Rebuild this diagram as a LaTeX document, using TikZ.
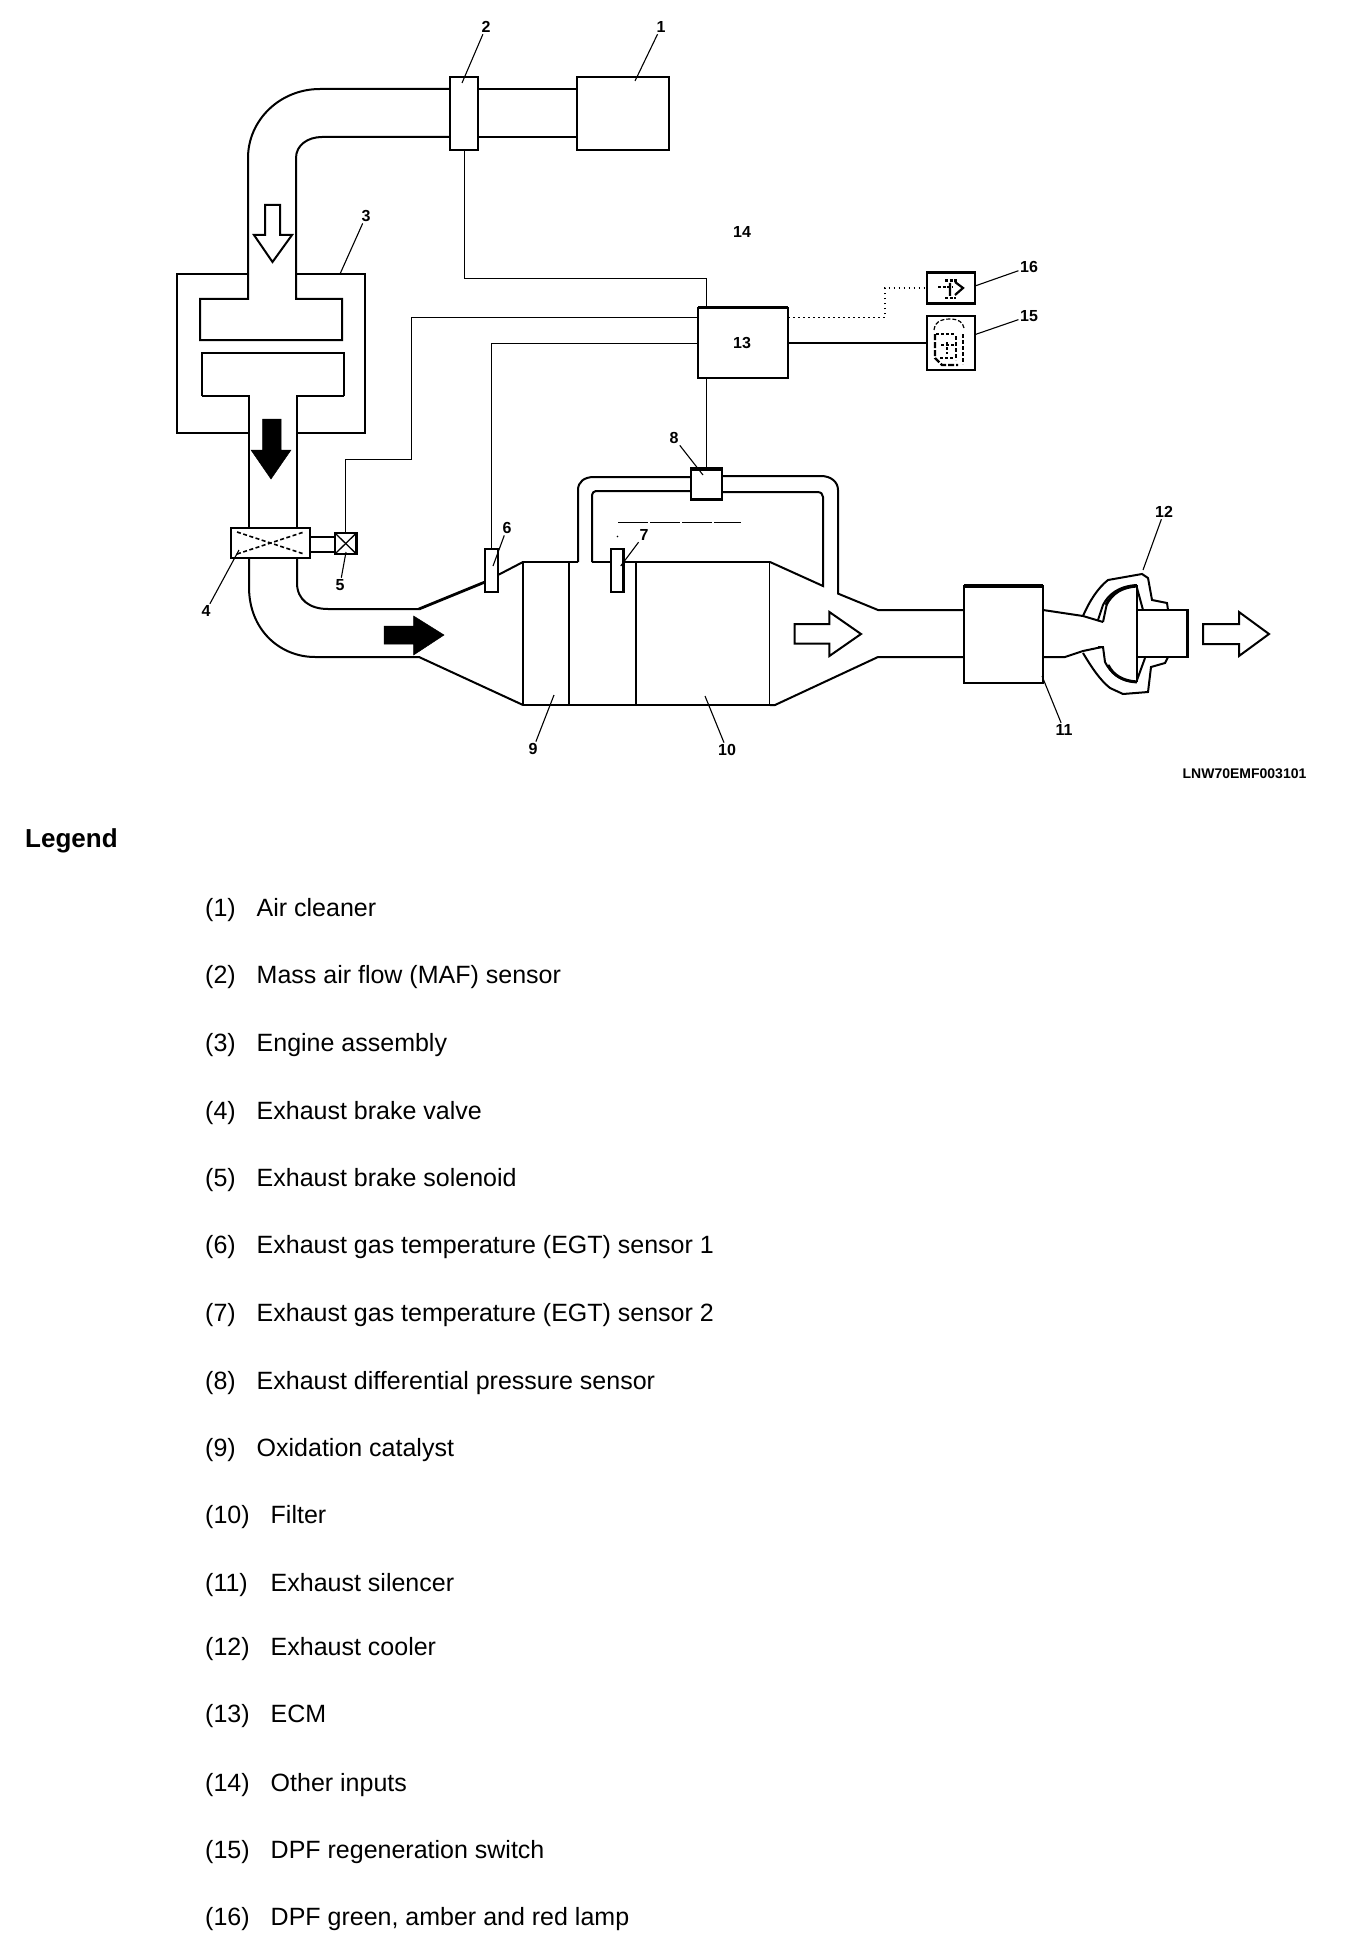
\documentclass[tikz,border=0pt]{standalone}
\usepackage{fontspec}
\setmainfont{Liberation Sans}
\tikzset{
  thickline/.style={line width=2.8pt},
  med/.style={line width=2pt},
  wire/.style={line width=1pt},
  dotwire/.style={line width=1.1pt,dash pattern=on 1.5pt off 3.5pt},
  leader/.style={line width=1.1pt},
  boxn/.style={draw,fill=white,inner sep=0pt,outer sep=0pt,line width=2.2pt},
  callout/.style={inner sep=1.5pt,font=\fontsize{16}{18}\selectfont\bfseries},
  legendnum/.style={anchor=base west,inner sep=0pt,font=\fontsize{25}{28}\selectfont},
  solidarrow/.style={fill=black,draw=black,line width=.5pt,line join=miter},
  openarrow/.style={fill=white,draw=black,line width=2pt,line join=miter}
}
\begin{document}
\begin{tikzpicture}[x=1pt,y=-1pt]
\useasboundingbox (0,0) rectangle (1344,1950);
\fill[white] (0,0) rectangle (1344,1950);

% intake pipe and engine
\draw[med] (450,89) -- (320,89) .. controls (280,89) and (248,120) .. (248,158) -- (248,274);
\draw[med] (450,137) -- (322,137) .. controls (308,137) and (296,145) .. (296,158) -- (296,299) -- (342,299) -- (342,340) -- (200,340) -- (200,299) -- (248,299) -- (248,274);
\draw[med] (478,89) -- (577,89);
\draw[med] (478,137) -- (577,137);
\draw[med] (249,274) -- (177,274) -- (177,433) -- (249,433);
\draw[med] (296,274) -- (365,274) -- (365,433) -- (297,433);
\draw[med] (202,396) -- (202,353) -- (344,353) -- (344,396);
\draw[thickline] (249,528) -- (249,396) -- (202,396);
\draw[thickline] (344,396) -- (297,396) -- (297,528);

% exhaust pipe, cone
\draw[med] (297,558) -- (297,583) .. controls (297,600) and (310,609) .. (328,609) -- (419,609);
\draw[thickline] (419,609) -- (485,582);
\draw[med] (249,558) -- (249,587) .. controls (249,630) and (280,657) .. (315,657) -- (419,657) -- (523,705);
\draw[med] (498,575) -- (523,562);
% catalyst and filter
\draw[med] (523,705) -- (523,562) -- (578,562);
\draw[med] (569,562) -- (569,705);
\draw[thickline] (636,562) -- (636,705);
\draw[thickline] (523,705) -- (770,705);
\draw[med] (592,562) -- (611,562);
\draw[med] (623,562) -- (770,562);
\draw[line width=1.4pt] (769.5,562) -- (769.5,705);
% differential pressure loop
\draw[med] (692,477) -- (594,477) .. controls (584,477) and (578,482) .. (578,490) -- (578,562);
\draw[med] (692,491) -- (596,491) .. controls (594,491) and (592,493) .. (592,495) -- (592,562);
\draw[med] (722,476) -- (821,476) .. controls (831,476) and (838,482) .. (838,490) -- (838,593.6) -- (878,610) -- (964,610);
\draw[med] (722,492) -- (817,492) .. controls (821,492) and (823,494) .. (823,497) -- (823,586) -- (770,562);
\draw[med] (770,705) -- (775,705) -- (878,657) -- (964,657);
% faint rule near sensor 7
\draw[line width=.8pt,dash pattern=on 30pt off 2pt] (618,522) -- (741,522);
\fill (617.5,536.5) circle (.8pt);

% silencer and cooler
\node[boxn,minimum width=79pt,minimum height=97pt] (silencer) at (1003.5,634.5) {};
\draw[line width=3.5pt] (964,586) -- (1043,586);
\draw[line width=2.8pt] (1043,586) -- (1043,683);
\draw[med] (1043,610) -- (1083,616) -- (1103,622);
\draw[med] (1043,657) -- (1065,657) -- (1083,651) -- (1102,647);
\draw[med] (1083,616) .. controls (1090,600) and (1098,588) .. (1108,580) -- (1142,574) -- (1148,578) -- (1152,600) -- (1167,603) -- (1168,610);
\draw[med] (1083,653) .. controls (1092,668) and (1100,680) .. (1110,688) -- (1123,694) -- (1148,692) -- (1151,667) -- (1165,663) -- (1168,657);
\draw[med] (1098,620) -- (1103,605) .. controls (1108,595) and (1118,586) .. (1137,585);
\draw[med] (1103,622) -- (1107,603);
\draw[med] (1098,647) -- (1103,647) -- (1105,662) .. controls (1110,672) and (1120,682) .. (1137,682);
\draw[line width=3pt] (1106,605) .. controls (1112,593) and (1122,587) .. (1137,586);
\draw[line width=3pt] (1108,665) .. controls (1113,675) and (1122,681) .. (1137,682);
\draw[med] (1137,585) -- (1137,682);
\draw[med] (1137,588) -- (1143,610);
\draw[med] (1137,680) -- (1145,658);
\draw[med] (1187,610) -- (1137,610);
\draw[med] (1187,657) -- (1137,657);
\draw[line width=3pt] (1187,609) -- (1187,658);

% boxes
\node[boxn,minimum width=92pt,minimum height=73pt] (cleaner) at (623,113.5) {};
\node[boxn,minimum width=28pt,minimum height=73pt] (maf) at (464,113.5) {};
\node[boxn,minimum width=90pt,minimum height=70pt] (ecm) at (743,343) {};
\draw[line width=3pt] (698,308) -- (788,308);
\node[boxn,minimum width=31pt,minimum height=31pt] (dps) at (706.5,484) {};
\draw[line width=3.2pt] (691,469) -- (722,469);
\node[boxn,line width=2.5pt,minimum width=79pt,minimum height=30pt] (valve) at (270.5,543) {};
\node[boxn,line width=2.5pt,minimum width=21.5pt,minimum height=21pt] (sol) at (345.7,543.5) {};
\node[boxn,minimum width=13pt,minimum height=43pt] (egt1) at (491.5,570.5) {};
\node[boxn,minimum width=12.5pt,minimum height=43pt] (egt2) at (617.2,570.5) {};
\node[boxn,line width=2.8pt,minimum width=48pt,minimum height=31.5pt] (lamp) at (951,288) {};
\node[boxn,line width=2.8pt,minimum width=48pt,minimum height=54pt] (sw) at (951,343) {};

% valve and solenoid details
\draw[line width=1.6pt,dash pattern=on 4pt off 2.5pt] (valve.north west) ++(6,4) -- ([shift={(-6,-4)}]valve.south east);
\draw[line width=1.6pt,dash pattern=on 4pt off 2.5pt] (valve.south west) ++(6,-4) -- ([shift={(-6,4)}]valve.north east);
\draw[line width=1.3pt] (sol.north west) -- (sol.south east);
\draw[line width=1.3pt] (sol.north east) -- (sol.south west);
\draw[med] (valve.east |- 0,537) -- (sol.west |- 0,537);
\draw[med] (valve.east |- 0,552) -- (sol.west |- 0,552);

% lamp and switch icons
\draw[line width=2.2pt,dash pattern=on 3pt off 1.5pt] (938,287) -- (953,287) (945,280.5) -- (957,280.5) (945,298) -- (956,298);
\draw[line width=2.2pt] (955,282) -- (963,288) -- (955,295) (950,283) -- (950,296);
\draw[line width=1.2pt,dash pattern=on 4pt off 2pt] (934,330) .. controls (934,323) and (940,319) .. (950,319) .. controls (958,319) and (963,322) .. (964,328);
\draw[line width=2.2pt,dash pattern=on 6pt off 2pt] (935,334) -- (935,358) -- (942,365) -- (958,365);
\draw[line width=1.3pt,dash pattern=on 4pt off 2pt] (956,336) -- (956,360) (963,334) -- (963,364);
\draw[line width=1.4pt,dash pattern=on 3pt off 2pt] (941,345) -- (955,345) (940,358) -- (953,358) (936,334) -- (955,334) (947,342) -- (947,354);

% wires
\coordinate (w2a) at (411,318);
\coordinate (w2b) at (411,459);
\coordinate (w4) at (885,317.5);
\draw[wire] (maf.south) -- ++(0,129) -| (ecm.north -| dps.north);
\draw[wire] (ecm.south -| dps.north) -- (dps.north);
\draw[wire] (ecm.west |- w2a) -- (w2a) -- (w2b) -| (sol.north);
\draw[wire] (ecm.west) -| (egt1.north);
\draw[line width=1.4pt] (ecm.east) -- (sw.west |- ecm.east);
\draw[dotwire] (ecm.east |- w4) -- (w4) |- (lamp.west);

% flow arrows
\draw[openarrow] (265,205) -- (280,205) -- (280,235) -- (292,235) -- (272.5,262) -- (254,235) -- (265,235) -- cycle;
\draw[solidarrow] (262.5,419) -- (281,419) -- (281,450) -- (291,450) -- (271,479) -- (251,450) -- (262.5,450) -- cycle;
\draw[solidarrow] (384,626) -- (413.6,626) -- (413.6,616) -- (444,635) -- (413.6,655) -- (413.6,644) -- (384,644) -- cycle;
\draw[openarrow] (794.5,624) -- (829.4,624) -- (829.4,612) -- (861,634) -- (829.4,656) -- (829.4,643.6) -- (794.5,643.6) -- cycle;
\draw[openarrow] (1203,624) -- (1239,624) -- (1239,612) -- (1269,634) -- (1239,656) -- (1239,644) -- (1203,644) -- cycle;

% callouts
\node[callout] (l1) at (661,27) {1};
\node[callout] (l2) at (486,27) {2};
\node[callout] (l3) at (366,216) {3};
\node[callout] (l4) at (206,611) {4};
\node[callout] (l5) at (340,585) {5};
\node[callout] (l6) at (507,528) {6};
\node[callout] (l7) at (644,535) {7};
\node[callout] (l8) at (674,438) {8};
\node[callout] (l9) at (533,749) {9};
\node[callout] (l10) at (727,750) {10};
\node[callout] (l11) at (1064,730) {11};
\node[callout] (l12) at (1164,512) {12};
\node[callout] (l13) at (742,343) {13};
\node[callout] (l14) at (742,232) {14};
\node[callout] (l15) at (1029,316) {15};
\node[callout] (l16) at (1029,267) {16};
\foreach \n/\ex/\ey in {1/635/81,2/462/83,3/340/274,4/239/550,5/346/552,6/493/566,7/620.7/566,8/703/475,9/554/695,10/705/696,11/1042/676,12/1143/570}{
  \coordinate (e\n) at (\ex,\ey);
  \draw[leader] (l\n) -- (e\n);
}
\draw[leader] (sw.east |- 0,334.6) -- (l15);
\draw[leader] (lamp.east |- 0,286) -- (l16);

\node[inner sep=0pt,font=\fontsize{14}{16}\selectfont\bfseries] (code) at (1244.5,774) {LNW70EMF003101};

% legend
\node[legendnum,font=\fontsize{26}{28}\selectfont\bfseries] (legendtitle) at (25,847) {Legend};
\foreach \n/\y/\t in {1/916/{Air cleaner},2/983/{Mass air flow (MAF) sensor},3/1051/{Engine assembly},4/1119/{Exhaust brake valve},5/1186/{Exhaust brake solenoid},6/1253.5/{Exhaust gas temperature (EGT) sensor 1},7/1321/{Exhaust gas temperature (EGT) sensor 2},8/1389/{Exhaust differential pressure sensor},9/1456/{Oxidation catalyst}}{
  \node[legendnum] (n\n) at (205,\y) {(\n)};
  \node[legendnum] (t\n) at (256.5,\y) {\t};
}
\foreach \n/\y/\t in {10/1523/{Filter},11/1591/{Exhaust silencer},12/1655/{Exhaust cooler},13/1722/{ECM},14/1791/{Other inputs},15/1858/{DPF regeneration switch},16/1925/{DPF green, amber and red lamp}}{
  \node[legendnum] (n\n) at (205,\y) {(\n)};
  \node[legendnum] (t\n) at (270.5,\y) {\t};
}
\end{tikzpicture}
\end{document}
